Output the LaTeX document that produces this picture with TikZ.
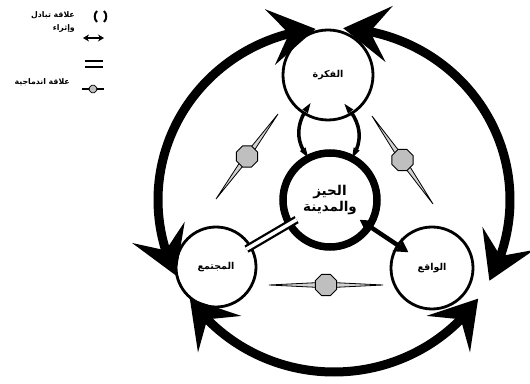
\documentclass[tikz,border=0pt]{standalone}
\usepackage{fontspec}
\usetikzlibrary{arrows.meta,bending,calc,shapes.geometric}
\newfontfamily\arabicfont[Script=Arabic]{DejaVu Sans}
\TeXXeTstate=1
\newcommand{\artext}[1]{{\arabicfont\bfseries\beginR #1\endR}}
% needle of the integrative relation: ends #1,#2, octagon name #3
\newcommand{\needle}[3]{%
  \fill[gray!35,draw=black,line width=0.8pt] (#1) -- ($(#1)!0.5!(#2)!2.8pt!90:(#2)$)
    -- (#2) -- ($(#1)!0.5!(#2)!2.8pt!-90:(#2)$) -- cycle;
  \node[octa] (#3) at ($(#1)!0.5!(#2)$) {};}

\begin{document}
\begin{tikzpicture}[x=1pt,y=1pt,
  ring/.style={circle,draw,line width=2.8pt,inner sep=0pt,font=\fontsize{9.5}{11}\selectfont},
  bigtip/.style={line width=9pt,{Stealth[length=46pt,width=56pt,inset=19pt,flex]}-{Stealth[length=46pt,width=56pt,inset=19pt,flex]}},
  paren/.style={line width=3.5pt,{Triangle[length=12pt,width=5.5pt]}-{Triangle[length=12pt,width=5.5pt]}},
  twoway/.style={line width=4.5pt,{Stealth[length=14pt,width=16pt]}-{Stealth[length=14pt,width=16pt]}},
  octa/.style={regular polygon,regular polygon sides=8,draw,fill=gray!50,line width=0.9pt,minimum size=23pt,inner sep=0pt},
  legtext/.style={anchor=east,font=\fontsize{7.8}{8}\selectfont,inner sep=0pt}]
  \useasboundingbox (0,0) rectangle (530,383);

  % outer cycle
  \coordinate (o) at (334,183);
  \draw[bigtip] (o) ++(96:176 and 172) arc[start angle=96,end angle=206,x radius=176,y radius=172];
  \draw[bigtip] (o) ++(87:176 and 172) arc[start angle=87,end angle=-28,x radius=176,y radius=172];
  \draw[bigtip] (o) ++(215:176 and 172) arc[start angle=215,end angle=325,x radius=176,y radius=172];

  % circles
  \node[ring,minimum size=90pt] (idea) at (328,308) {\artext{الفكرة}};
  \node[ring,line width=7.5pt,minimum size=94pt,align=center,font=\fontsize{13.5}{16}\selectfont] (spc) at (330,183)
    {\artext{الحيز}\\\artext{والمدينة}};
  \node[ring,minimum size=80pt] (soc) at (216,116) {\artext{المجتمع}};
  \node[ring,minimum size=82pt] (real) at (432,115) {\artext{الواقع}};

  % relations
  \draw[paren,shorten <=-14pt,shorten >=-5pt] (idea.238) to[bend right=30] (spc.118);
  \draw[paren,shorten <=-14pt,shorten >=-5pt] (idea.302) to[bend left=30] (spc.62);
  \draw[twoway,shorten <=-15pt,shorten >=-14pt] (spc) -- (real);
  \draw[double,double distance=3.5pt,line width=2.3pt,shorten <=-6pt,shorten >=-12pt] (soc) -- (spc);

  % integrative needles
  \needle{216,184}{278,269}{intl}
  \needle{372,267}{433,179}{intr}
  \needle{269,98}{383,98}{intb}

  % legend
  \draw[line width=2pt] (97,372) to[bend right=45] (97,361);
  \draw[line width=2pt] (104,372) to[bend left=45] (104,361);
  \node[legtext] (l1) at (75,368) {\artext{علاقة تبادل}};
  \node[legtext] (l2) at (75,355) {\artext{وإثراء}};
  \draw[line width=1.8pt,{Stealth[length=6pt,width=7pt]}-{Stealth[length=6pt,width=7pt]}] (83,345) -- (104,345);
  \draw[line width=1.6pt] (85,322) -- (103,322);
  \draw[line width=1.6pt] (85,316) -- (103,316);
  \node[legtext] (l3) at (70,301) {\artext{علاقة اندماجية}};
  \draw[line width=1.5pt] (82,294) -- (104,294);
  \node[octa,minimum size=8pt,line width=0.7pt] (lo) at (93,294) {};
\end{tikzpicture}
\end{document}
